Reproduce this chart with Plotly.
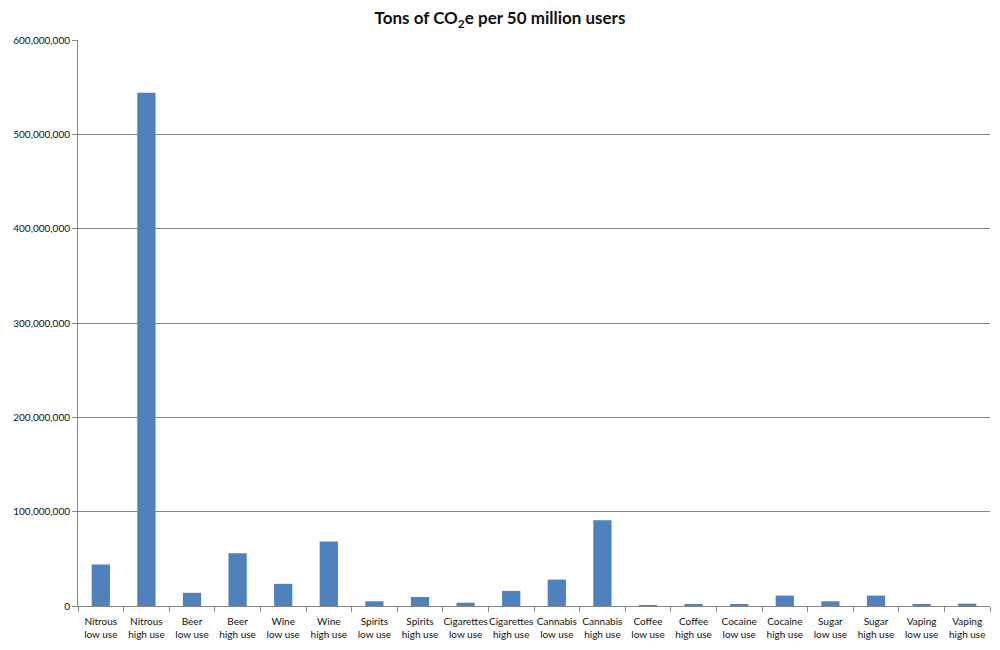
import plotly.graph_objects as go

categories = [
    "Nitrous<br>low use", "Nitrous<br>high use", "Beer<br>low use", "Beer<br>high use",
    "Wine<br>low use", "Wine<br>high use", "Spirits<br>low use", "Spirits<br>high use",
    "Cigarettes<br>low use", "Cigarettes<br>high use", "Cannabis<br>low use", "Cannabis<br>high use",
    "Coffee<br>low use", "Coffee<br>high use", "Cocaine<br>low use", "Cocaine<br>high use",
    "Sugar<br>low use", "Sugar<br>high use", "Vaping<br>low use", "Vaping<br>high use",
]
tons_co2e = [
    44_000_000, 544_000_000, 14_000_000, 56_000_000,
    23_500_000, 68_500_000, 5_000_000, 9_500_000,
    3_500_000, 16_000_000, 28_000_000, 91_000_000,
    200_000, 1_500_000, 1_500_000, 11_000_000,
    5_000_000, 11_000_000, 1_300_000, 2_500_000,
]
y_ticks = [0, 100_000_000, 200_000_000, 300_000_000, 400_000_000, 500_000_000, 600_000_000]

fig = go.Figure(go.Bar(x=categories, y=tons_co2e, marker_color="#4F81BD",
                       marker_line_width=0))

# page body adds an 8px margin, so the figure is a bit smaller than the window
fig.update_layout(
    width=984, height=634,
    plot_bgcolor="white", paper_bgcolor="white",
    font=dict(family="Lato, Liberation Sans, sans-serif", size=10, color="#111"),
    title=dict(text="<b>Tons of CO<sub>2</sub>e per 50 million users</b>",
               x=0.5, xanchor="center", y=0.984, yanchor="middle",
               font=dict(size=17, color="#111")),
    margin=dict(l=70, r=2, t=32, b=36),
    bargap=0.6,
    showlegend=False,
)
fig.update_xaxes(showline=True, linecolor="#868686", linewidth=1,
                 ticks="outside", tickson="boundaries", ticklen=5, tickcolor="#868686",
                 tickangle=0, automargin=False, ticklabelstandoff=6,
                 showgrid=False)
fig.update_yaxes(range=[0, 600_000_000], tickvals=y_ticks, tickformat=",d",
                 showline=True, linecolor="#868686", linewidth=1,
                 ticks="outside", ticklen=5, tickcolor="#868686", automargin=False,
                 gridcolor="#868686", gridwidth=1, zeroline=False)

fig.write_html("out.html")
